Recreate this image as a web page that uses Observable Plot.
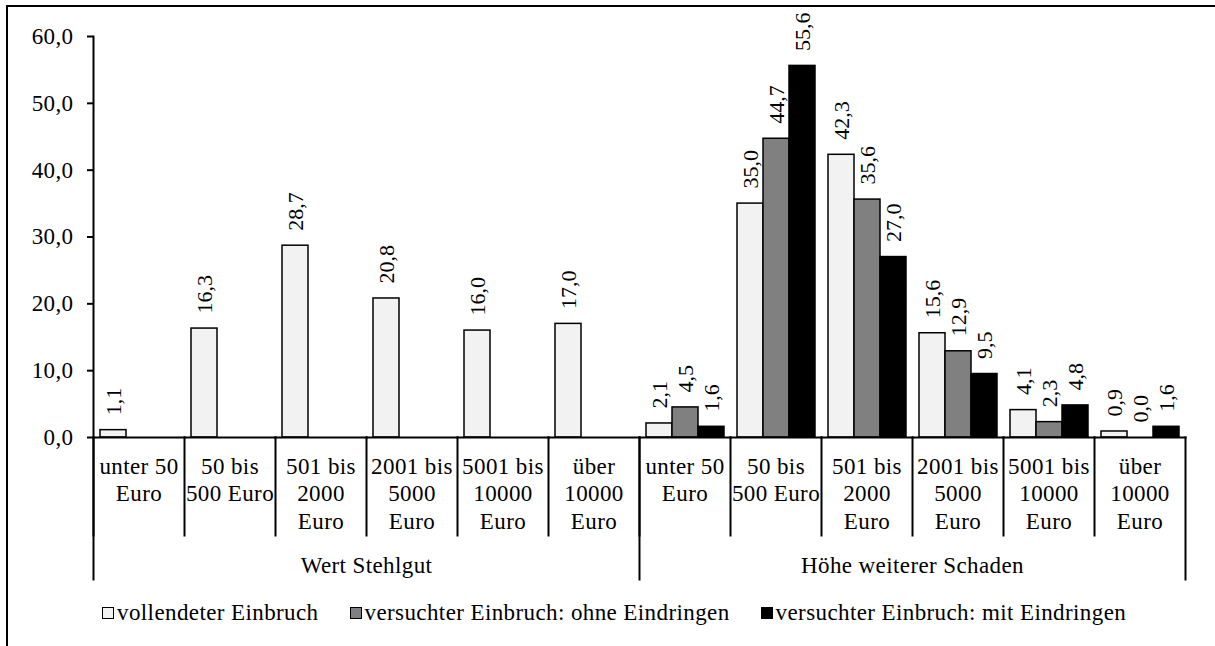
<!DOCTYPE html>
<html><head><meta charset="utf-8">
<script src="https://cdn.jsdelivr.net/npm/d3@7"></script>
<script src="https://cdn.jsdelivr.net/npm/@observablehq/plot@0.6"></script>
<style>
html,body{margin:0;padding:0;background:#fff;}
body{width:1215px;height:646px;overflow:hidden;position:relative;font-family:"Liberation Serif",serif;}
#box{position:absolute;left:6px;top:5px;width:1300px;height:700px;border-left:2px solid #000;border-top:2px solid #000;}
#chart{position:absolute;left:0;top:0;}
#chart svg{overflow:visible;}
#chart svg text{letter-spacing:0.4px;}
#chart svg text[transform*="rotate"]{letter-spacing:0;}
#legend{position:absolute;left:102px;top:600px;display:flex;align-items:center;font-size:23px;letter-spacing:0.4px;white-space:nowrap;color:#000;}
.item{display:flex;align-items:center;margin-right:31px;}
.sw{width:10px;height:10px;border:1.5px solid #000;margin-right:3px;}
</style></head><body>
<div id="box"></div><div id="chart"></div><div id="legend"></div>
<script>
// ---- data ----
const groups = ["Wert Stehlgut", "Höhe weiterer Schaden"];
const groupKeys = ["W", "H"];
const categoryLabels = ["unter 50\nEuro", "50 bis\n500 Euro", "501 bis\n2000\nEuro", "2001 bis\n5000\nEuro", "5001 bis\n10000\nEuro", "über\n10000\nEuro"];
const series = ["vollendeter Einbruch", "versuchter Einbruch: ohne Eindringen", "versuchter Einbruch: mit Eindringen"];
const seriesColors = ["#f2f2f2", "#808080", "#000000"];
const stehlgutVollendet = [1.1, 16.3, 28.7, 20.8, 16.0, 17.0];
const schadenVollendet = [2.1, 35.0, 42.3, 15.6, 4.1, 0.9];
const schadenOhne = [4.5, 44.7, 35.6, 12.9, 2.3, 0.0];
const schadenMit = [1.6, 55.6, 27.0, 9.5, 4.8, 1.6];
const yTicks = [0, 10, 20, 30, 40, 50, 60];

// ---- tables built from the arrays ----
const keys = groupKeys.flatMap(g => categoryLabels.map((_, i) => g + i));
const cats = keys.map((key, j) => ({key, label: categoryLabels[j % categoryLabels.length]}));
const data = [];
stehlgutVollendet.forEach((v, i) => data.push({key: "W" + i, series: series[0], value: v}));
[schadenVollendet, schadenOhne, schadenMit].forEach((arr, s) =>
  arr.forEach((v, i) => data.push({key: "H" + i, series: series[s], value: v})));
const groupLabels = groups.map((label, g) => ({key: groupKeys[g] + "2", label}));
const fmt = v => v.toFixed(1).replace(".", ",");
const firstKey = keys[0], secondGroupFirst = "H0", lastKey = keys[keys.length - 1];

const chart = Plot.plot({
  width: 1215,
  height: 600,
  marginTop: 36,
  marginBottom: 163,
  marginLeft: 88,
  marginRight: 25,
  style: {fontFamily: "Liberation Serif", fontSize: "23px", color: "#000", background: "transparent"},
  fx: {domain: keys, padding: 0, axis: null, label: null},
  x: {domain: series, paddingInner: 0, paddingOuter: 0.23, axis: null, label: null},
  y: {domain: [0, 60], axis: null},
  color: {domain: series, range: seriesColors},
  marks: [
    Plot.barY(data, {fx: "key", x: "series", y: "value", fill: "series", stroke: "#000", strokeWidth: 1.5}),
    Plot.text(data, {fx: "key", x: "series", y: "value", text: d => fmt(d.value), rotate: -90,
      textAnchor: "start", lineAnchor: "middle", dy: -15, fontSize: 22, fill: "#000"}),
    Plot.frame({anchor: "bottom", stroke: "#000", strokeWidth: 2}),
    Plot.frame({anchor: "left", stroke: "#000", strokeWidth: 2, insetTop: 401, insetBottom: -98}),
    Plot.frame({anchor: "left", fx: () => firstKey, stroke: "#000", strokeWidth: 2, insetBottom: -142}),
    Plot.frame({anchor: "left", fx: () => secondGroupFirst, stroke: "#000", strokeWidth: 2, insetTop: 401, insetBottom: -142}),
    Plot.frame({anchor: "right", fx: () => lastKey, stroke: "#000", strokeWidth: 2, insetTop: 401, insetBottom: -142}),
    Plot.axisY({ticks: yTicks, tickFormat: fmt, tickSize: 6, tickPadding: 14, fontSize: 23, strokeWidth: 2, label: null}),
    Plot.text(cats, {fx: "key", frameAnchor: "bottom", text: "label", lineAnchor: "top", lineHeight: 1.2, dy: 16.8, fontSize: 23, fill: "#000"}),
    Plot.text(groupLabels, {fx: "key", frameAnchor: "bottom-right", text: "label", textAnchor: "middle", lineAnchor: "middle", dy: 128, fontSize: 23, fill: "#000"})
  ]
});
document.getElementById("chart").appendChild(chart);

// ---- legend ----
const legend = document.getElementById("legend");
series.forEach((s, i) => {
  const item = document.createElement("div");
  item.className = "item";
  const sw = document.createElement("div");
  sw.className = "sw";
  sw.style.background = seriesColors[i];
  const t = document.createElement("span");
  t.textContent = s;
  item.appendChild(sw); item.appendChild(t);
  legend.appendChild(item);
});
</script></body></html>
